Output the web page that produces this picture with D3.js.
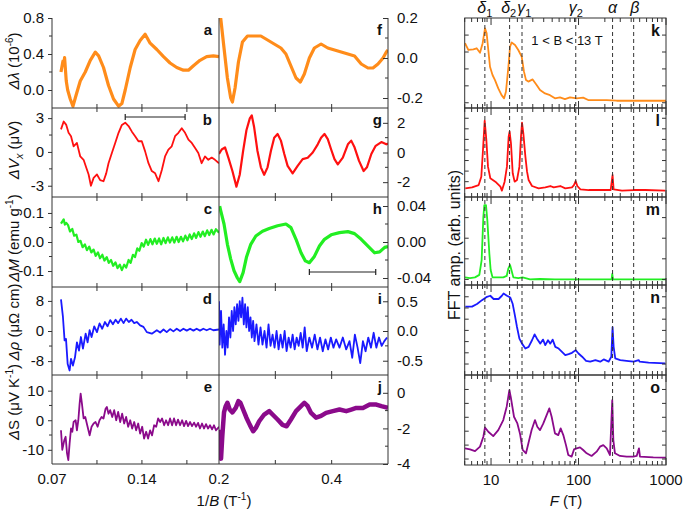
<!DOCTYPE html>
<html><head><meta charset="utf-8">
<script src="https://cdn.jsdelivr.net/npm/d3@7"></script>
<style>body{margin:0;background:#fff}svg{display:block}text{font-family:"Liberation Sans",Arial,Helvetica,sans-serif;fill:#111}</style>
</head><body><svg id="c" width="685" height="516"></svg>
<script>
// ---------- DATA ----------
// left block: [1/B (T^-1), value]
const seriesA = [[0.0770,0.2],[0.0785,0.32],[0.0791,0.28],[0.0798,0.36],[0.0811,0.1],[0.0822,0.0],[0.0842,-0.1],[0.0863,-0.18],[0.0889,-0.05],[0.0920,0.1],[0.0959,0.2],[0.0998,0.33],[0.1037,0.42],[0.1063,0.38],[0.1101,0.25],[0.1140,0.05],[0.1179,-0.1],[0.1218,-0.18],[0.1244,-0.15],[0.1270,0.0],[0.1309,0.25],[0.1347,0.45],[0.1386,0.55],[0.1425,0.62],[0.1464,0.52],[0.1516,0.45],[0.1568,0.37],[0.1619,0.3],[0.1671,0.25],[0.1723,0.22],[0.1762,0.22],[0.1801,0.27],[0.1852,0.33],[0.1904,0.37],[0.1956,0.38],[0.2000,0.37]];
const seriesF = [[0.2000,0.3],[0.2030,0.2],[0.2089,0.05],[0.2149,-0.1],[0.2208,-0.2],[0.2238,-0.22],[0.2285,-0.15],[0.2345,-0.02],[0.2416,0.08],[0.2505,0.11],[0.2624,0.11],[0.2743,0.11],[0.2862,0.09],[0.2980,0.07],[0.3099,0.05],[0.3188,0.02],[0.3277,-0.04],[0.3367,-0.1],[0.3444,-0.12],[0.3515,-0.08],[0.3604,0.0],[0.3693,0.05],[0.3812,0.07],[0.3931,0.05],[0.4050,0.04],[0.4169,0.03],[0.4288,0.02],[0.4406,0.01],[0.4525,-0.03],[0.4644,-0.05],[0.4733,-0.05],[0.4822,-0.03],[0.4912,0.0],[0.4971,0.03],[0.5000,0.04]];
const seriesB = [[0.0770,2.0],[0.0791,2.7],[0.0811,2.4],[0.0829,1.7],[0.0848,1.4],[0.0868,0.5],[0.0894,0.8],[0.0920,-0.4],[0.0946,-0.7],[0.0967,-1.4],[0.0985,-2.0],[0.1003,-3.0],[0.1024,-2.3],[0.1050,-2.0],[0.1075,-2.5],[0.1101,-2.6],[0.1122,-1.9],[0.1140,-1.0],[0.1166,-0.1],[0.1192,0.8],[0.1218,1.7],[0.1244,2.4],[0.1270,2.6],[0.1296,2.3],[0.1322,1.8],[0.1347,1.4],[0.1373,0.95],[0.1399,0.95],[0.1425,0.05],[0.1451,-1.0],[0.1477,-1.7],[0.1503,-1.9],[0.1529,-2.6],[0.1555,-1.6],[0.1580,-0.4],[0.1606,0.2],[0.1632,0.5],[0.1658,1.4],[0.1684,1.7],[0.1710,2.1],[0.1736,1.7],[0.1762,1.1],[0.1788,0.8],[0.1814,0.35],[0.1839,-0.1],[0.1865,-1.0],[0.1891,-0.4],[0.1917,-0.7],[0.1943,-0.5],[0.1969,-0.7],[0.2000,-1.0]];
const seriesG = [[0.2000,-0.1],[0.2048,0.2],[0.2107,0.35],[0.2166,-0.35],[0.2238,-1.25],[0.2309,-2.3],[0.2368,-1.5],[0.2428,0.1],[0.2487,1.5],[0.2547,2.3],[0.2582,2.5],[0.2624,1.7],[0.2683,0.1],[0.2743,-1.0],[0.2802,-1.5],[0.2862,-1.0],[0.2921,0.1],[0.2980,1.0],[0.3040,1.25],[0.3099,0.8],[0.3159,-0.1],[0.3218,-0.9],[0.3307,-1.4],[0.3396,-0.9],[0.3485,-0.45],[0.3575,-0.35],[0.3664,0.0],[0.3753,0.55],[0.3812,1.0],[0.3872,1.25],[0.3931,0.9],[0.3991,0.2],[0.4050,-0.45],[0.4109,-0.8],[0.4198,-0.35],[0.4288,0.55],[0.4347,0.8],[0.4406,0.35],[0.4484,-0.55],[0.4567,-1.25],[0.4626,-1.0],[0.4704,-0.1],[0.4781,0.45],[0.4882,0.7],[0.4971,0.55],[0.5000,0.6]];
const seriesC = [[0.0770,0.063],[0.0780,0.07],[0.0791,0.078],[0.0800,0.06],[0.0811,0.066],[0.0825,0.058],[0.0840,0.036],[0.0858,0.045],[0.0872,0.022],[0.0890,0.025],[0.0905,0.0],[0.0922,0.004],[0.0938,-0.018],[0.0956,-0.008],[0.0972,-0.028],[0.0990,-0.016],[0.1006,-0.036],[0.1024,-0.026],[0.1040,-0.048],[0.1058,-0.036],[0.1074,-0.056],[0.1092,-0.044],[0.1108,-0.064],[0.1126,-0.052],[0.1142,-0.072],[0.1160,-0.062],[0.1176,-0.082],[0.1194,-0.07],[0.1210,-0.09],[0.1228,-0.078],[0.1244,-0.097],[0.1262,-0.078],[0.1278,-0.088],[0.1296,-0.062],[0.1312,-0.072],[0.1330,-0.044],[0.1346,-0.052],[0.1364,-0.022],[0.1380,-0.03],[0.1398,-0.004],[0.1414,-0.016],[0.1432,0.008],[0.1448,-0.01],[0.1466,0.01],[0.1482,-0.008],[0.1500,0.012],[0.1516,-0.006],[0.1534,0.012],[0.1550,-0.008],[0.1568,0.014],[0.1584,-0.004],[0.1602,0.016],[0.1618,-0.002],[0.1636,0.016],[0.1652,-0.002],[0.1670,0.018],[0.1686,0.0],[0.1704,0.018],[0.1720,0.002],[0.1738,0.022],[0.1754,0.006],[0.1772,0.026],[0.1788,0.01],[0.1806,0.03],[0.1822,0.014],[0.1840,0.034],[0.1856,0.018],[0.1874,0.036],[0.1890,0.02],[0.1908,0.04],[0.1924,0.024],[0.1942,0.042],[0.1958,0.026],[0.1976,0.044],[0.2000,0.032]];
const seriesH = [[0.2012,0.04],[0.2030,0.035],[0.2089,0.02],[0.2149,-0.0026],[0.2208,-0.019],[0.2267,-0.032],[0.2327,-0.04],[0.2368,-0.044],[0.2428,-0.034],[0.2487,-0.017],[0.2564,-0.0026],[0.2654,0.0067],[0.2772,0.012],[0.2891,0.015],[0.3040,0.018],[0.3188,0.02],[0.3277,0.016],[0.3367,0.003],[0.3456,-0.012],[0.3533,-0.021],[0.3604,-0.023],[0.3693,-0.016],[0.3783,-0.0045],[0.3872,0.003],[0.3991,0.008],[0.4139,0.0104],[0.4288,0.0115],[0.4406,0.0093],[0.4525,0.003],[0.4644,-0.0045],[0.4763,-0.012],[0.4852,-0.011],[0.4941,-0.006],[0.5000,-0.005]];
const seriesD = [[0.0770,8.4],[0.0785,3.8],[0.0798,-2.5],[0.0809,-2.1],[0.0822,-8.8],[0.0837,-10.5],[0.0848,-7.4],[0.0863,-9.2],[0.0879,-7.0],[0.0894,-3.0],[0.0910,-5.2],[0.0925,-1.6],[0.0941,-4.7],[0.0962,-0.7],[0.0977,-3.0],[0.0993,0.2],[0.1008,-1.6],[0.1029,1.25],[0.1050,-0.3],[0.1070,2.0],[0.1091,0.6],[0.1112,2.4],[0.1132,1.25],[0.1153,2.9],[0.1174,1.8],[0.1195,3.0],[0.1215,2.1],[0.1236,3.3],[0.1257,2.1],[0.1277,3.3],[0.1298,2.4],[0.1319,3.0],[0.1340,2.1],[0.1360,2.4],[0.1386,1.5],[0.1412,1.1],[0.1438,-0.3],[0.1477,-0.7],[0.1516,0.2],[0.1542,-0.4],[0.1568,0.4],[0.1593,-0.3],[0.1619,0.5],[0.1645,-0.1],[0.1671,0.6],[0.1697,0.0],[0.1723,0.6],[0.1749,0.1],[0.1775,0.6],[0.1801,0.1],[0.1826,0.6],[0.1852,0.1],[0.1878,0.6],[0.1904,0.2],[0.1930,0.6],[0.1956,0.2],[0.2000,0.4]];
const seriesI = [[0.2000,0.5],[0.2012,-0.23],[0.2036,0.34],[0.2059,-0.28],[0.2083,0.11],[0.2107,-0.4],[0.2131,0.0],[0.2154,-0.28],[0.2178,0.23],[0.2202,-0.11],[0.2226,0.34],[0.2250,0.0],[0.2273,0.4],[0.2297,0.11],[0.2321,0.45],[0.2345,0.17],[0.2368,0.5],[0.2392,0.23],[0.2416,0.56],[0.2440,0.11],[0.2463,0.45],[0.2487,0.06],[0.2511,0.4],[0.2535,0.0],[0.2559,0.23],[0.2582,-0.11],[0.2606,0.17],[0.2630,-0.17],[0.2665,0.11],[0.2701,-0.23],[0.2737,0.06],[0.2772,-0.23],[0.2808,0.0],[0.2844,-0.28],[0.2879,0.11],[0.2915,-0.25],[0.2951,-0.06],[0.2986,-0.28],[0.3022,0.0],[0.3058,-0.31],[0.3093,-0.06],[0.3129,-0.28],[0.3165,0.0],[0.3200,-0.34],[0.3236,-0.11],[0.3272,-0.28],[0.3307,-0.06],[0.3343,-0.31],[0.3378,-0.11],[0.3414,-0.25],[0.3450,-0.03],[0.3485,-0.28],[0.3521,0.06],[0.3557,-0.34],[0.3604,-0.11],[0.3652,-0.28],[0.3699,-0.06],[0.3747,-0.31],[0.3794,-0.11],[0.3842,-0.34],[0.3889,-0.14],[0.3937,-0.31],[0.3985,-0.11],[0.4032,-0.28],[0.4080,-0.14],[0.4139,-0.28],[0.4198,-0.11],[0.4258,-0.31],[0.4317,-0.17],[0.4365,-0.45],[0.4412,-0.06],[0.4460,-0.28],[0.4507,-0.54],[0.4555,-0.17],[0.4602,-0.34],[0.4650,-0.11],[0.4698,-0.28],[0.4745,-0.03],[0.4793,-0.28],[0.4840,-0.11],[0.4888,-0.25],[0.4935,-0.17],[0.4983,-0.11]];
const seriesE = [[0.0770,-3.4],[0.0780,-10],[0.0796,-6.7],[0.0806,-5.6],[0.0817,-11.2],[0.0827,-13.5],[0.0837,-7.9],[0.0848,-2.8],[0.0858,-3.9],[0.0868,-0.6],[0.0884,0.0],[0.0894,-3.4],[0.0905,0.0],[0.0915,5.6],[0.0923,9.0],[0.0933,5.6],[0.0946,0.6],[0.0959,1.1],[0.0977,-2.2],[0.0993,-5.1],[0.1008,-2.2],[0.1024,-1.1],[0.1039,-0.6],[0.1055,-2.2],[0.1070,0.0],[0.1086,1.1],[0.1101,0.6],[0.1117,3.9],[0.1127,4.5],[0.1140,2.2],[0.1153,3.4],[0.1169,1.1],[0.1184,3.4],[0.1200,0.0],[0.1215,2.8],[0.1231,-0.6],[0.1246,2.2],[0.1262,-1.1],[0.1277,1.1],[0.1293,-2.2],[0.1309,0.0],[0.1324,-2.8],[0.1340,-0.6],[0.1355,-3.4],[0.1371,-1.1],[0.1386,-4.5],[0.1402,-2.2],[0.1417,-6.2],[0.1433,-3.9],[0.1448,-6.2],[0.1464,-3.4],[0.1479,-5.1],[0.1495,-1.7],[0.1511,-2.2],[0.1526,0.6],[0.1542,-0.6],[0.1557,0.6],[0.1573,-1.7],[0.1588,0.0],[0.1604,-1.7],[0.1619,0.6],[0.1635,-1.7],[0.1650,0.6],[0.1666,-1.7],[0.1681,0.2],[0.1697,-1.7],[0.1713,0.0],[0.1728,-2.0],[0.1744,-0.2],[0.1759,-2.0],[0.1775,-0.6],[0.1790,-2.0],[0.1806,-0.8],[0.1821,-2.2],[0.1837,-0.9],[0.1852,-2.8],[0.1868,-1.1],[0.1883,-2.8],[0.1899,-1.3],[0.1915,-2.8],[0.1930,-1.7],[0.1946,-3.1],[0.1961,-1.7],[0.1977,-3.4],[0.2000,-2.2]];
const seriesJ = [[0.2000,-2.07],[0.2018,-3.4],[0.2036,-3.7],[0.2059,-2.4],[0.2089,-1.1],[0.2119,-0.75],[0.2149,-0.56],[0.2190,-0.94],[0.2238,-1.1],[0.2297,-0.85],[0.2345,-0.47],[0.2380,-0.56],[0.2428,-0.94],[0.2487,-1.4],[0.2547,-1.8],[0.2606,-2.16],[0.2654,-1.97],[0.2713,-1.6],[0.2802,-1.22],[0.2891,-1.03],[0.2951,-1.22],[0.3040,-1.5],[0.3129,-1.8],[0.3200,-1.88],[0.3277,-1.5],[0.3367,-1.03],[0.3456,-0.75],[0.3515,-0.56],[0.3575,-0.75],[0.3634,-1.13],[0.3723,-1.4],[0.3812,-1.3],[0.3901,-1.13],[0.4020,-1.03],[0.4139,-0.94],[0.4258,-1.03],[0.4347,-0.94],[0.4436,-0.85],[0.4555,-0.85],[0.4674,-0.66],[0.4793,-0.66],[0.4882,-0.75],[0.5000,-0.85]];

// FFT block: [F (T), amplitude in tick units]
const fftK = [[5.04,3.52],[5.5,3.12],[6.28,3.16],[6.85,3.22],[7.48,2.96],[8.02,3.52],[8.53,4.4],[8.91,4.1],[9.31,3.12],[9.73,2.13],[10.4,1.64],[11.1,1.34],[12.1,0.85],[13.2,0.45],[14.1,0.26],[14.8,0.65],[15.8,2.13],[16.5,3.32],[17.2,3.56],[18.8,3.42],[20.5,3.12],[22.4,2.73],[23.8,1.84],[25.1,1.34],[26.7,1.25],[29.9,1.38],[33.2,1.05],[36.3,0.75],[41.4,0.55],[47.2,0.45],[53.8,0.26],[61.4,0.32],[70.0,0.22],[79.9,0.32],[95.2,0.26],[113,0.3],[129,0.16],[161,0.16],[210,0.16],[273,0.12],[355,0.12],[504,0.12],[716,0.12],[1000,0.12]];
const fftL = [[5.08,-0.63],[6.06,-0.54],[7.22,-0.32],[7.74,0.47],[8.09,3.0],[8.46,5.77],[8.84,3.94],[9.23,1.42],[9.81,0.32],[11.2,0.0],[12.8,-0.47],[13.3,-0.85],[14.3,0.0],[15.2,1.42],[15.9,4.26],[16.3,4.73],[16.9,3.63],[17.7,0.79],[18.6,0.0],[19.8,0.16],[21.1,1.42],[22.0,4.26],[22.6,5.58],[23.4,4.57],[24.7,2.37],[25.8,0.95],[26.9,0.16],[29.4,-0.41],[35.0,-0.63],[41.7,-0.54],[47.6,-0.41],[52.0,-0.54],[61.9,-0.41],[70.6,-0.63],[84.2,-0.54],[88.7,-0.32],[92.7,0.06],[96.9,-0.41],[105,-0.73],[131,-0.79],[185,-0.79],[233,-0.79],[241,0.16],[245,0.63],[252,-0.73],[314,-0.85],[427,-0.79],[580,-0.79],[981,-0.85]];
const fftM = [[5.04,0.1],[5.75,0.06],[6.56,0.1],[7.35,0.22],[7.81,0.94],[8.17,3.04],[8.38,3.6],[8.76,3.6],[9.07,2.88],[9.56,1.27],[9.9,0.46],[10.4,0.1],[11.6,0.1],[13.8,0.1],[15.1,0.17],[15.8,0.54],[16.5,0.7],[17.1,0.46],[18.0,0.1],[20.5,0.06],[23.0,0.1],[27.9,0.0],[36.3,0.02],[53.8,0.0],[87.2,0.0],[135,0.0],[239,0.0],[243,0.27],[248,0.0],[355,0.0],[1000,0.0]];
const fftN = [[5.08,5.12],[6.06,5.12],[6.91,5.35],[7.88,5.7],[8.99,6.0],[9.81,6.09],[10.7,5.8],[12.2,5.8],[13.3,6.09],[13.9,6.29],[15.2,6.09],[16.6,5.94],[17.7,5.35],[18.6,4.47],[19.8,3.3],[21.1,2.26],[22.6,1.82],[24.7,1.38],[26.9,1.53],[29.4,2.12],[31.5,2.65],[33.5,2.26],[36.6,1.82],[39.3,2.18],[41.7,1.68],[44.8,2.12],[47.6,1.82],[50.6,2.18],[54.3,1.53],[59.3,1.38],[64.7,1.09],[70.6,0.79],[77.1,0.88],[84.2,1.0],[92.7,1.24],[100,0.94],[110,0.65],[122,0.29],[136,0.21],[156,0.35],[177,0.21],[194,0.41],[221,0.21],[237,0.65],[245,3.3],[252,1.53],[263,0.5],[300,0.35],[374,0.26],[427,0.21],[487,0.35],[500,0.21],[633,0.12],[981,0.06]];
const fftO = [[5.04,0.77],[5.75,0.69],[6.56,0.57],[7.48,0.89],[8.17,1.6],[8.53,2.27],[9.31,1.96],[10.6,1.65],[12.1,2.08],[13.8,2.8],[15.1,3.76],[16.2,4.95],[16.8,4.47],[18.3,3.04],[20.0,2.56],[21.4,1.84],[23.0,0.65],[25.1,0.41],[26.7,1.12],[29.1,2.08],[31.8,2.8],[33.8,2.32],[36.3,2.08],[39.6,2.56],[43.2,3.16],[46.4,3.64],[49.3,3.04],[53.8,1.84],[58.7,1.72],[62.5,2.2],[67.0,1.72],[71.9,1.0],[76.4,0.29],[83.4,0.17],[88.8,0.69],[95.2,0.77],[104,0.84],[113,0.65],[124,0.41],[141,0.22],[161,0.53],[176,0.89],[192,1.0],[210,0.77],[229,0.29],[243,4.23],[250,1.36],[261,0.41],[298,0.22],[355,0.17],[423,0.17],[462,0.22],[491,0.77],[504,0.17],[716,0.12],[1000,0.1]];

// characteristic frequencies (T) and their labels
const freqLines = [8.5, 16.3, 22.6, 93, 245, 427];
const freqNames = [["δ","1"],["δ","2"],["γ","1"],["γ","2"],["α",""],["β",""]];
const freqLabelX = [8.5, 15.9, 24.0, 93, 245, 440];

const leftTickLabels = ["0.07","0.14"];
const rightTickLabels = ["0.2","0.4"];
const fftTickLabels = ["10","100","1000"];

// ---------- LAYOUT ----------
const svg = d3.select("#c");
const rowsL = [[18,108],[108,197],[197,287],[287,375],[375,464]];
const rowsF = [[18,108],[108,197],[197,285],[285,375],[375,465]];
const X0 = 52, XM = 219, X1 = 388;
const xL = d3.scaleLinear().domain([0.07,0.2]).range([X0,XM]);
const xR = d3.scaleLinear().domain([0.2,0.5]).range([XM,X1]);
const xF = d3.scaleLog().domain([5,1000]).range([464.7,666]);

const leftPanels = [
 {d:seriesA, c:"#ff8c1a", w:3.2, dom:[-0.2,0.8], lab:[0,0.4,0.8], minor:[0.2,0.6], f:d3.format(".1f"), L:"a"},
 {d:seriesB, c:"#ff1010", w:1.8, dom:[-4,3.9], lab:[-3,0,3], minor:[-1.5,1.5], f:d3.format("d"), L:"b"},
 {d:seriesC, c:"#22ee22", w:2.2, dom:[-0.155,0.155], lab:[-0.1,0,0.1], minor:[-0.05,0.05], f:d3.format(".1f"), L:"c"},
 {d:seriesD, c:"#1a1aff", w:1.8, dom:[-11.7,11.7], lab:[-8,0,8], minor:[-4,4], f:d3.format("d"), L:"d"},
 {d:seriesE, c:"#8b0a8b", w:1.8, dom:[-14.8,15.3], lab:[-10,0,10], minor:[-5,5], f:d3.format("d"), L:"e"}
];
const rightPanels = [
 {d:seriesF, c:"#ff8c1a", w:3.2, dom:[-0.25,0.2], lab:[-0.2,0,0.2], minor:[-0.1,0.1], f:d3.format(".1f"), L:"f"},
 {d:seriesG, c:"#ff1010", w:2.2, dom:[-3,3], lab:[-2,0,2], minor:[-1,1], f:d3.format("d"), L:"g"},
 {d:seriesH, c:"#22ee22", w:3.2, dom:[-0.05,0.05], lab:[-0.04,0,0.04], minor:[-0.02,0.02], f:d3.format(".2f"), L:"h"},
 {d:seriesI, c:"#1a1aff", w:1.8, dom:[-0.74,0.74], lab:[-0.5,0,0.5], minor:[-0.25,0.25], f:d3.format(".1f"), L:"i"},
 {d:seriesJ, c:"#8b0a8b", w:4.5, dom:[-4,1], lab:[-4,-2,0], minor:[-3,-1], f:d3.format("d"), L:"j"}
];
const fftPanels = [
 {d:fftK, c:"#ff8c1a", w:1.8, dom:[-0.31,5.01], ticks:[0,1,2,3,4], L:"k"},
 {d:fftL, c:"#ff1010", w:1.8, dom:[-1.45,6.97], ticks:[0,1,2,3,4,5,6], L:"l"},
 {d:fftM, c:"#22ee22", w:1.8, dom:[-0.27,4.0], ticks:[0,1,2,3], L:"m"},
 {d:fftN, c:"#1a1aff", w:1.8, dom:[-0.98,7.05], ticks:[0,1,2,3,4,5,6], L:"n"},
 {d:fftO, c:"#8b0a8b", w:1.8, dom:[-0.43,6.04], ticks:[0,1,2,3,4,5], L:"o"}
];
const fmtMinus = s => s.replace("−","-");
const defs = svg.append("defs");
const frame = "#333";

function clip(id,x,y,w,h){defs.append("clipPath").attr("id",id).append("rect").attr("x",x).attr("y",y).attr("width",w).attr("height",h);}

// left block
leftPanels.forEach((p,i)=>{
  const [t,b] = rowsL[i];
  const y = d3.scaleLinear().domain(p.dom).range([b,t]);
  clip("cl"+i,X0,t,XM-X0,b-t);
  svg.append("path").datum(p.d).attr("clip-path","url(#cl"+i+")")
    .attr("d",d3.line().x(d=>xL(d[0])).y(d=>y(d[1])))
    .attr("fill","none").attr("stroke",p.c).attr("stroke-width",p.w).attr("stroke-linejoin","round");
  const ax = svg.append("g").attr("transform",`translate(${X0},0)`)
    .call(d3.axisLeft(y).tickValues(p.lab).tickFormat(v=>fmtMinus(p.f(v))).tickSize(4).tickPadding(4));
  ax.select(".domain").remove();
  ax.selectAll("line").attr("stroke",frame);
  ax.selectAll("text").style("font-size","15px").attr("fill","#111");
  svg.append("g").selectAll("line").data(p.minor).join("line")
    .attr("x1",X0-3).attr("x2",X0).attr("y1",d=>y(d)).attr("y2",d=>y(d)).attr("stroke",frame);
  svg.append("text").text(p.L).attr("x",212).attr("y",t+17).attr("text-anchor","end")
    .style("font-size","15px").style("font-weight","bold");
});
rightPanels.forEach((p,i)=>{
  const [t,b] = rowsL[i];
  const y = d3.scaleLinear().domain(p.dom).range([b,t]);
  clip("cr"+i,XM,t,X1-XM,b-t);
  svg.append("path").datum(p.d).attr("clip-path","url(#cr"+i+")")
    .attr("d",d3.line().x(d=>xR(d[0])).y(d=>y(d[1])))
    .attr("fill","none").attr("stroke",p.c).attr("stroke-width",p.w).attr("stroke-linejoin","round");
  const ax = svg.append("g").attr("transform",`translate(${X1},0)`)
    .call(d3.axisRight(y).tickValues(p.lab).tickFormat(v=>fmtMinus(p.f(v))).tickSize(-5).tickPadding(9));
  ax.select(".domain").remove();
  ax.selectAll("line").attr("stroke",frame);
  ax.selectAll("text").style("font-size","15px").attr("fill","#111");
  svg.append("g").selectAll("line").data(p.minor).join("line")
    .attr("x1",X1-3).attr("x2",X1).attr("y1",d=>y(d)).attr("y2",d=>y(d)).attr("stroke",frame);
  svg.append("text").text(p.L).attr("x",382).attr("y",t+17).attr("text-anchor","end")
    .style("font-size","15px").style("font-weight","bold");
});
// left frame lines
svg.append("line").attr("x1",X0).attr("x2",X0).attr("y1",18).attr("y2",464).attr("stroke",frame);
svg.append("line").attr("x1",XM).attr("x2",XM).attr("y1",18).attr("y2",464).attr("stroke",frame);
svg.append("line").attr("x1",X1).attr("x2",X1).attr("y1",18).attr("y2",464).attr("stroke",frame);
rowsL.slice(1).map(r=>r[0]).concat([464]).forEach(yy=>{
  svg.append("line").attr("x1",X0).attr("x2",X1).attr("y1",yy).attr("y2",yy).attr("stroke",frame);
});
// x ticks at boundaries
const lt = [0.105,0.14,0.175], rt=[0.3,0.4];
rowsL.slice(1).map(r=>r[0]).forEach(yy=>{
  lt.forEach(v=>svg.append("line").attr("x1",xL(v)).attr("x2",xL(v)).attr("y1",yy-4).attr("y2",yy+4).attr("stroke",frame));
  rt.forEach(v=>svg.append("line").attr("x1",xR(v)).attr("x2",xR(v)).attr("y1",yy-4).attr("y2",yy+4).attr("stroke",frame));
});
lt.forEach(v=>svg.append("line").attr("x1",xL(v)).attr("x2",xL(v)).attr("y1",460).attr("y2",464).attr("stroke",frame));
rt.forEach(v=>svg.append("line").attr("x1",xR(v)).attr("x2",xR(v)).attr("y1",460).attr("y2",464).attr("stroke",frame));
// bottom tick labels
[[xL(0.07),leftTickLabels[0]],[xL(0.14),leftTickLabels[1]],[xR(0.2),rightTickLabels[0]],[xR(0.4),rightTickLabels[1]]].forEach(([x,s])=>{
  svg.append("text").text(s).attr("x",x).attr("y",484).attr("text-anchor","middle").style("font-size","15px");
});
const xl = svg.append("text").attr("x",224).attr("y",506).attr("text-anchor","middle").style("font-size","15px");
xl.append("tspan").text("1/");
xl.append("tspan").text("B").style("font-style","italic");
xl.append("tspan").text(" (T");
xl.append("tspan").text("-1").attr("dy",-6).style("font-size","10px");
xl.append("tspan").text(")").attr("dy",6);

// scale bars
function bar(x1,x2,yy){
  const g=svg.append("g").attr("stroke","#222").attr("stroke-width",1.2);
  g.append("line").attr("x1",x1).attr("x2",x2).attr("y1",yy).attr("y2",yy);
  g.append("line").attr("x1",x1).attr("x2",x1).attr("y1",yy-3).attr("y2",yy+3);
  g.append("line").attr("x1",x2).attr("x2",x2).attr("y1",yy-3).attr("y2",yy+3);
}
bar(xL(0.1270), xL(0.1736), 117);
bar(xR(0.3604), xR(0.4782), 272);

// left y labels (rotated)
function ylab(cy, parts){
  const t = svg.append("text").attr("transform",`translate(19,${cy}) rotate(-90)`).attr("text-anchor","middle").style("font-size","15px");
  parts.forEach(p=>{const s=t.append("tspan").text(p[0]); if(p[1]) s.style("font-style","italic"); if(p[2]) s.attr("dy",p[2]).style("font-size",p[3]||"15px");});
}
ylab(61,[["Δλ",1],[" (10"],["-6",0,-6,"10px"],[")",0,6]]);
ylab(150,[["ΔV",1],["x",1,4,"11px"],[" (μV)",0,-4]]);
ylab(238,[["ΔM",1],[" (emu g"],["-1",0,-6,"10px"],[")",0,6]]);
ylab(322,[["Δρ",1],[" (μΩ cm)"]]);
ylab(402,[["Δ",1],["S (μV K"],["-1",0,-6,"10px"],[")",0,6]]);

// FFT block
const FX0 = 464.7, FX1 = 666;
const minorF = [];
[1,10,100].forEach(dec=>{for(let k=1;k<10;k++){const v=k*dec; if(v>=5 && v<1000 && k!==1) minorF.push(v);}});
const majorF = [10,100,1000];
fftPanels.forEach((p,i)=>{
  const [t,b] = rowsF[i];
  const y = d3.scaleLinear().domain(p.dom).range([b,t]);
  clip("cf"+i,FX0,t,FX1-FX0,b-t);
  svg.append("path").datum(p.d).attr("clip-path","url(#cf"+i+")")
    .attr("d",d3.line().x(d=>xF(d[0])).y(d=>y(d[1])))
    .attr("fill","none").attr("stroke",p.c).attr("stroke-width",p.w).attr("stroke-linejoin","round");
  svg.append("rect").attr("x",FX0).attr("y",t).attr("width",FX1-FX0).attr("height",b-t).attr("fill","none").attr("stroke",frame);
  const g = svg.append("g").attr("stroke",frame);
  p.ticks.forEach(v=>{
    g.append("line").attr("x1",FX0).attr("x2",FX0+4).attr("y1",y(v)).attr("y2",y(v));
    g.append("line").attr("x1",FX1-4).attr("x2",FX1).attr("y1",y(v)).attr("y2",y(v));
  });
  minorF.forEach(v=>{
    g.append("line").attr("x1",xF(v)).attr("x2",xF(v)).attr("y1",t).attr("y2",t+4);
    g.append("line").attr("x1",xF(v)).attr("x2",xF(v)).attr("y1",b-4).attr("y2",b);
  });
  majorF.forEach(v=>{
    g.append("line").attr("x1",xF(v)).attr("x2",xF(v)).attr("y1",t).attr("y2",t+7);
    g.append("line").attr("x1",xF(v)).attr("x2",xF(v)).attr("y1",b-7).attr("y2",b);
  });
  svg.append("text").text(p.L).attr("x",660).attr("y",t+18).attr("text-anchor","end")
    .style("font-size","16px").style("font-weight","bold");
});
// dashed lines
freqLines.forEach(v=>{
  svg.append("line").attr("x1",xF(v)).attr("x2",xF(v)).attr("y1",18).attr("y2",465)
    .attr("stroke","#333").attr("stroke-dasharray","4,3").attr("stroke-width",1);
});
freqNames.forEach((n,i)=>{
  const t = svg.append("text").attr("x",xF(freqLabelX[i])).attr("y",13).attr("text-anchor","middle").style("font-size","16px");
  t.append("tspan").text(n[0]).style("font-style","italic");
  if(n[1]) t.append("tspan").text(n[1]).attr("dy",4).style("font-size","11px");
});
svg.append("text").attr("x",567).attr("y",45).attr("text-anchor","middle").style("font-size","13px").text("1 < B < 13 T");
fftTickLabels.forEach((s,i)=>{
  svg.append("text").text(s).attr("x",xF(majorF[i])).attr("y",485).attr("text-anchor","middle").style("font-size","15px");
});
const fl = svg.append("text").attr("x",566).attr("y",506).attr("text-anchor","middle").style("font-size","15px");
fl.append("tspan").text("F").style("font-style","italic");
fl.append("tspan").text(" (T)");
svg.append("text").attr("transform","translate(460,245) rotate(-90)").attr("text-anchor","middle")
  .style("font-size","16px").text("FFT amp. (arb. units)");
</script></body></html>
